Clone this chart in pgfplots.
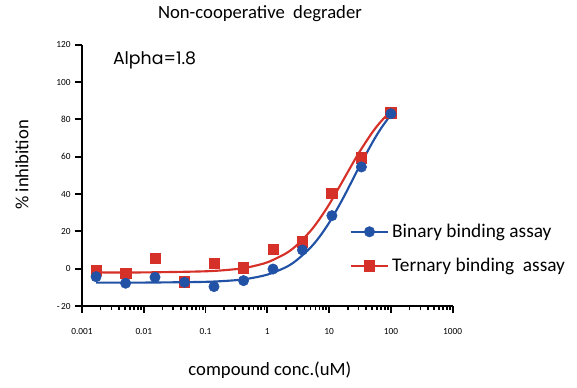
\documentclass[border=0pt]{standalone}
\usepackage{pgfplots}
\pgfplotsset{compat=1.18}
\usepackage{fontspec}
\setmainfont{Carlito}
\newfontfamily\alphafont{Poppins}
\definecolor{myblue}{RGB}{33,82,165}
\definecolor{myred}{RGB}{214,49,41}
\begin{document}
\begin{tikzpicture}
\useasboundingbox (-61.5pt,-60.75pt) rectangle (371.25pt,229.5pt);
\begin{axis}[
  at={(0,0)}, anchor=south west, clip=false,
  scale only axis, width=278pt, height=196pt,
  xmode=log, xmin=0.001, xmax=1000, ymin=-20, ymax=120,
  axis lines=left, axis line style={line width=1.8pt, -},
  xtick={0.001,0.01,0.1,1,10,100,1000},
  xticklabels={0.001,0.01,0.1,1,10,100,1000},
  minor xtick={0.002,0.003,0.004,0.005,0.006,0.007,0.008,0.009,
               0.02,0.03,0.04,0.05,0.06,0.07,0.08,0.09,
               0.2,0.3,0.4,0.5,0.6,0.7,0.8,0.9,
               2,3,4,5,6,7,8,9,
               20,30,40,50,60,70,80,90,
               200,300,400,500,600,700,800,900},
  ytick={-20,0,20,40,60,80,100,120},
  yticklabels={{-\,20},0,20,40,60,80,100,120},
  tick align=outside, major tick length=5pt, minor tick length=3pt,
  tick style={line width=1.3pt, black},
  every tick label/.append style={font=\fontsize{7}{8}\selectfont},
  xticklabel style={yshift=-8pt},
  legend style={draw=none, fill=none, at={(0.71,0.335)}, anchor=north west,
    font=\fontsize{14.5}{16}\selectfont, row sep=10pt},
  legend cell align=left,
  legend image code/.code={
    \draw[#1, line width=1.6pt] (0cm,0cm) -- (1cm,0cm);
    \draw[#1, only marks] plot coordinates {(0.5cm,0cm)};
  },
]
\addplot[myred, line width=1.6pt, smooth, forget plot] coordinates {
(0.0017,-2) (0.01,-2) (0.1,-1.4) (0.3,-0.3) (0.5,0.8) (1,3.4) (2,8.2) (3,12.6)
(5,20.2) (7,26.6) (10,34.4) (15,44.4) (20,51.7) (30,61.8) (50,73) (70,79.1) (100,84.4)};
\addplot[myblue, line width=1.6pt, smooth, forget plot] coordinates {
(0.0017,-7.5) (0.01,-7.45) (0.1,-7.05) (0.3,-6.2) (0.5,-5.3) (1,-3.2) (2,0.8) (3,4.6)
(5,11.3) (7,17.1) (10,24.6) (15,34.7) (20,42.5) (30,53.9) (50,67.5) (70,75.4) (100,82.5)};
\addplot[myred, only marks, mark=square*, mark size=3.9pt, forget plot] coordinates {
(0.00169,-1) (0.00508,-2.5) (0.0152,5.5) (0.0457,-7) (0.137,2.9) (0.412,0.5)
(1.235,10.4) (3.70,14.5) (11.1,40.5) (33.3,59.5) (100,83.5)};
\addplot[myblue, only marks, mark=*, mark size=3.9pt, forget plot] coordinates {
(0.00169,-4.3) (0.00508,-7.8) (0.0152,-4.6) (0.0457,-7.3) (0.137,-9.6) (0.412,-6.4)
(1.235,-0.2) (3.70,10) (11.1,28.4) (33.3,54.5) (100,83)};
\addlegendimage{myblue, mark=*, mark size=3.9pt}
\addlegendentry{Binary binding assay}
\addlegendimage{myred, mark=square*, mark size=3.9pt}
\addlegendentry{Ternary binding\ \ assay}
\node[font=\fontsize{14}{16}\selectfont] at (rel axis cs:0.48,1.119) {Non-cooperative\ \ degrader};
\node[font=\fontsize{14}{16}\selectfont] at (rel axis cs:0.507,-0.245) {compound conc.(uM)};
\node[font=\fontsize{14}{16}\selectfont, rotate=90] at (rel axis cs:-0.162,0.54) {\% inhibition};
\node[font=\alphafont\fontsize{13}{15}\selectfont, anchor=west, inner sep=0pt] at (rel axis cs:0.083,0.94) {Alpha=1.8};
\end{axis}
\end{tikzpicture}
\end{document}
